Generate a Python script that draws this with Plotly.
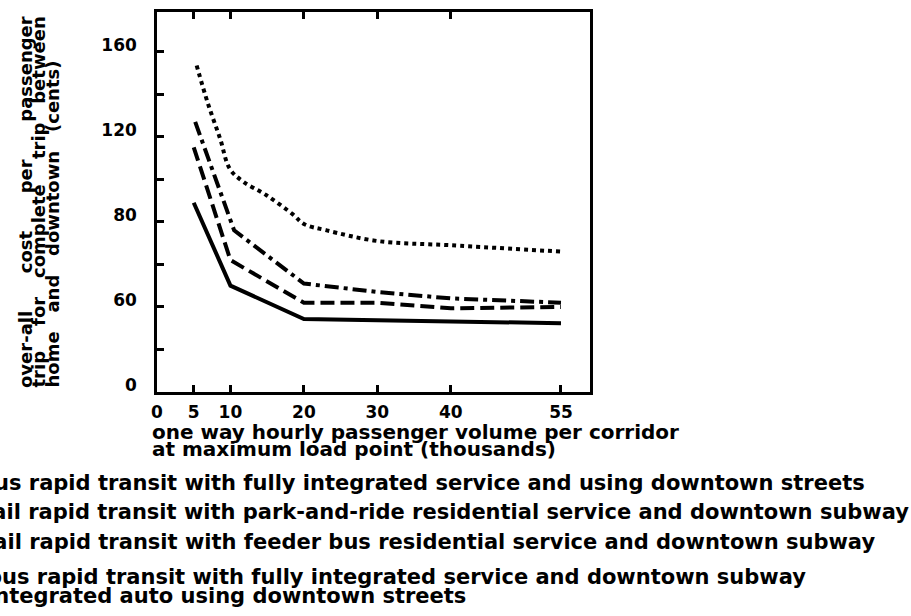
import numpy as np
import plotly.graph_objects as go

# Passenger volume (thousands per hour) and over-all cost per trip (cents)
x_ticks = [0, 5, 10, 20, 30, 40, 55]
top_ticks = [5, 10, 20, 30, 40]
y_tick_cents = [0, 60, 80, 120, 160]
y_tick_text = ["0", "60", "80", "120", "160"]

solid_x = [5, 10, 20, 55]
solid_y = [89, 65, 51.5, 48.5]

dashed_x = [5, 10, 20, 30, 40, 55]
dashed_y = [115, 71, 61, 61, 59, 60]

dashdot_x = [5.2, 10.5, 20, 30, 40, 55]
dashdot_y = [127, 78, 65.5, 63.5, 62, 61]

dotted_x = [5.4, 6.9, 8.6, 9.9, 11.7, 14.9, 18.5, 20, 23.1, 30, 40, 55]
dotted_y = [153.5, 136, 119, 105, 99, 92.5, 83.5, 79.5, 78, 75.5, 74.5, 73]

legend_labels = [
    "bus rapid transit with fully integrated service and using downtown streets",
    "rail rapid transit with park-and-ride residential service and downtown subway",
    "rail rapid transit with feeder bus residential service and downtown subway",
    "bus rapid transit with fully integrated service and downtown subway",
    "integrated auto using downtown streets",
]


def spaced(words, gaps):
    """Join words with widened (non-collapsing) gaps of the given widths."""
    out = words[0]
    for w, g in zip(words[1:], gaps):
        out += "\u00a0" * (g - 1) + " " + w
    return out


y_title_lines = [
    spaced(["over-all", "cost", "per", "passenger"], [6, 6, 6]),
    spaced(["trip", "for", "complete", "trip", "between"], [4, 3, 4, 3]),
    spaced(["home", "and", "downtown", "(cents)"], [3, 3, 3]),
]
x_title_lines = [
    "one way hourly passenger volume per corridor",
    "at maximum load point (thousands)",
]

# The printed cost axis is not linear: its labels are evenly spaced.
y_index = list(range(len(y_tick_cents)))


def y_scale(cents):
    return np.interp(cents, y_tick_cents, y_index)


W, H = 911, 616
L, R, T, B = 157, 321, 9, 224
PW, PH = W - L - R, H - T - B
FONT = "DejaVu Sans"


def px(xp):
    return (xp - L) / PW


def py(yp):
    return (H - B - yp) / PH


fig = go.Figure()
series = [
    (solid_x, solid_y, "solid", legend_labels[0], "linear", "x"),
    (dashed_x, dashed_y, "14px,6px", legend_labels[1], "linear", "x"),
    (dashdot_x, dashdot_y, "14px,5px,4px,5px", legend_labels[2], "linear", "x"),
    (dotted_x, dotted_y, "4px,4px", legend_labels[4], "spline", "x2"),
]
for xs, ys, dash, name, shape, xa in series:
    fig.add_trace(go.Scatter(
        x=xs, y=y_scale(ys), mode="lines", name=name, xaxis=xa,
        line=dict(color="black", width=4, dash=dash, shape=shape),
        showlegend=False,
    ))

tick_font = dict(family=FONT, size=17, color="black", weight=700)
half_steps = np.arange(0, len(y_tick_cents) - 0.5, 0.5)
half_text = []
for v in half_steps:
    half_text.append(y_tick_text[int(v)] if float(v).is_integer() else "")

X_RANGE = [0, 58.95]
fig.update_layout(
    width=W, height=H,
    margin=dict(l=L, r=R, t=T, b=B),
    paper_bgcolor="white", plot_bgcolor="white",
    xaxis=dict(
        range=X_RANGE, tickmode="array", tickvals=x_ticks,
        ticktext=[str(v) for v in x_ticks],
        ticks="inside", ticklen=7, tickwidth=2.5, tickcolor="black",
        showline=True, linecolor="black", linewidth=2.5, mirror=True,
        showgrid=False, zeroline=False, tickfont=tick_font,
        ticklabelstandoff=3,
    ),
    xaxis2=dict(
        range=X_RANGE, overlaying="x", side="top", anchor="y",
        tickmode="array", tickvals=top_ticks, showticklabels=False,
        ticks="inside", ticklen=7, tickwidth=2.5, tickcolor="black",
        showline=False, showgrid=False, zeroline=False,
    ),
    yaxis=dict(
        range=[0, (H - B - T) / ((H - B - 49) / 4)],
        tickmode="array", tickvals=half_steps, ticktext=half_text,
        ticks="inside", ticklen=7, tickwidth=2.5, tickcolor="black",
        showline=True, linecolor="black", linewidth=2.5, mirror=True,
        showgrid=False, zeroline=False, tickfont=tick_font,
        ticklabelstandoff=14, ticklabelshift=-7,
    ),
)

legend_font = dict(family=FONT, size=21, color="black", weight=700)
xtitle_font = dict(family=FONT, size=20, color="black", weight=700)
ytitle_font = dict(family=FONT, size=18, color="black", weight=700)
ann = []
for line, yc in zip(x_title_lines, [432, 449]):
    ann.append(dict(text=line, x=px(150), y=py(yc), xref="paper", yref="paper",
                    xanchor="left", yanchor="middle", showarrow=False,
                    font=xtitle_font))
for line, xs, yc in zip(legend_labels, [-23, -20, -19, -15, -15],
                        [484, 513, 543, 578, 598]):
    ann.append(dict(text=line, x=px(xs), y=py(yc), xref="paper", yref="paper",
                    xanchor="left", yanchor="middle", showarrow=False,
                    font=legend_font))
for line, xc in zip(y_title_lines, [25, 39, 53]):
    ann.append(dict(text=line, x=px(xc), y=py(390), xref="paper", yref="paper",
                    xanchor="center", yanchor="bottom", textangle=-90,
                    showarrow=False, font=ytitle_font))
fig.update_layout(annotations=ann)

fig.write_html("out.html")
